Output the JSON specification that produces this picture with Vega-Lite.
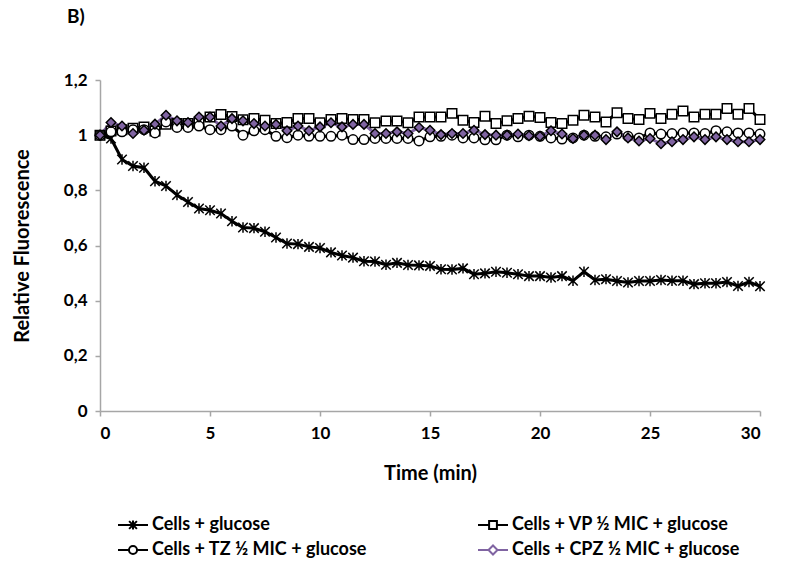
{
  "$schema": "https://vega.github.io/schema/vega-lite/v6.json",
  "width": 660,
  "height": 331,
  "autosize": {"type": "none"},
  "padding": {"left": 100, "top": 80, "right": 38, "bottom": 157},
  "background": "white",
  "config": {"view": {"stroke": null}, "font": "Lato"},
  "title": {"text": "B)", "anchor": "start", "frame": "group", "dx": -33, "offset": 44, "fontSize": 19, "font": "Lato", "fontWeight": "bold", "color": "#000"},
  "datasets": {
    "rows": [
      {"t":0,"s":"Cells + glucose","v":1.000},{"t":0.5,"s":"Cells + glucose","v":0.988},{"t":1,"s":"Cells + glucose","v":0.912},{"t":1.5,"s":"Cells + glucose","v":0.888},{"t":2,"s":"Cells + glucose","v":0.882},{"t":2.5,"s":"Cells + glucose","v":0.833},{"t":3,"s":"Cells + glucose","v":0.816},{"t":3.5,"s":"Cells + glucose","v":0.783},{"t":4,"s":"Cells + glucose","v":0.758},{"t":4.5,"s":"Cells + glucose","v":0.734},{"t":5,"s":"Cells + glucose","v":0.728},{"t":5.5,"s":"Cells + glucose","v":0.716},{"t":6,"s":"Cells + glucose","v":0.688},{"t":6.5,"s":"Cells + glucose","v":0.665},{"t":7,"s":"Cells + glucose","v":0.663},{"t":7.5,"s":"Cells + glucose","v":0.650},{"t":8,"s":"Cells + glucose","v":0.629},{"t":8.5,"s":"Cells + glucose","v":0.607},{"t":9,"s":"Cells + glucose","v":0.605},{"t":9.5,"s":"Cells + glucose","v":0.595},{"t":10,"s":"Cells + glucose","v":0.591},{"t":10.5,"s":"Cells + glucose","v":0.575},{"t":11,"s":"Cells + glucose","v":0.564},{"t":11.5,"s":"Cells + glucose","v":0.556},{"t":12,"s":"Cells + glucose","v":0.543},{"t":12.5,"s":"Cells + glucose","v":0.542},{"t":13,"s":"Cells + glucose","v":0.530},{"t":13.5,"s":"Cells + glucose","v":0.537},{"t":14,"s":"Cells + glucose","v":0.529},{"t":14.5,"s":"Cells + glucose","v":0.528},{"t":15,"s":"Cells + glucose","v":0.526},{"t":15.5,"s":"Cells + glucose","v":0.514},{"t":16,"s":"Cells + glucose","v":0.513},{"t":16.5,"s":"Cells + glucose","v":0.517},{"t":17,"s":"Cells + glucose","v":0.496},{"t":17.5,"s":"Cells + glucose","v":0.499},{"t":18,"s":"Cells + glucose","v":0.505},{"t":18.5,"s":"Cells + glucose","v":0.501},{"t":19,"s":"Cells + glucose","v":0.496},{"t":19.5,"s":"Cells + glucose","v":0.489},{"t":20,"s":"Cells + glucose","v":0.489},{"t":20.5,"s":"Cells + glucose","v":0.484},{"t":21,"s":"Cells + glucose","v":0.489},{"t":21.5,"s":"Cells + glucose","v":0.472},{"t":22,"s":"Cells + glucose","v":0.505},{"t":22.5,"s":"Cells + glucose","v":0.475},{"t":23,"s":"Cells + glucose","v":0.478},{"t":23.5,"s":"Cells + glucose","v":0.471},{"t":24,"s":"Cells + glucose","v":0.466},{"t":24.5,"s":"Cells + glucose","v":0.471},{"t":25,"s":"Cells + glucose","v":0.471},{"t":25.5,"s":"Cells + glucose","v":0.475},{"t":26,"s":"Cells + glucose","v":0.472},{"t":26.5,"s":"Cells + glucose","v":0.472},{"t":27,"s":"Cells + glucose","v":0.460},{"t":27.5,"s":"Cells + glucose","v":0.463},{"t":28,"s":"Cells + glucose","v":0.463},{"t":28.5,"s":"Cells + glucose","v":0.468},{"t":29,"s":"Cells + glucose","v":0.453},{"t":29.5,"s":"Cells + glucose","v":0.468},{"t":30,"s":"Cells + glucose","v":0.452},

      {"t":0,"s":"Cells + VP ½ MIC + glucose","v":1.000},{"t":0.5,"s":"Cells + VP ½ MIC + glucose","v":1.015},{"t":1,"s":"Cells + VP ½ MIC + glucose","v":1.020},{"t":1.5,"s":"Cells + VP ½ MIC + glucose","v":1.025},{"t":2,"s":"Cells + VP ½ MIC + glucose","v":1.030},{"t":2.5,"s":"Cells + VP ½ MIC + glucose","v":1.015},{"t":3,"s":"Cells + VP ½ MIC + glucose","v":1.040},{"t":3.5,"s":"Cells + VP ½ MIC + glucose","v":1.042},{"t":4,"s":"Cells + VP ½ MIC + glucose","v":1.042},{"t":4.5,"s":"Cells + VP ½ MIC + glucose","v":1.046},{"t":5,"s":"Cells + VP ½ MIC + glucose","v":1.066},{"t":5.5,"s":"Cells + VP ½ MIC + glucose","v":1.075},{"t":6,"s":"Cells + VP ½ MIC + glucose","v":1.068},{"t":6.5,"s":"Cells + VP ½ MIC + glucose","v":1.056},{"t":7,"s":"Cells + VP ½ MIC + glucose","v":1.060},{"t":7.5,"s":"Cells + VP ½ MIC + glucose","v":1.054},{"t":8,"s":"Cells + VP ½ MIC + glucose","v":1.042},{"t":8.5,"s":"Cells + VP ½ MIC + glucose","v":1.046},{"t":9,"s":"Cells + VP ½ MIC + glucose","v":1.060},{"t":9.5,"s":"Cells + VP ½ MIC + glucose","v":1.060},{"t":10,"s":"Cells + VP ½ MIC + glucose","v":1.045},{"t":10.5,"s":"Cells + VP ½ MIC + glucose","v":1.057},{"t":11,"s":"Cells + VP ½ MIC + glucose","v":1.060},{"t":11.5,"s":"Cells + VP ½ MIC + glucose","v":1.057},{"t":12,"s":"Cells + VP ½ MIC + glucose","v":1.057},{"t":12.5,"s":"Cells + VP ½ MIC + glucose","v":1.045},{"t":13,"s":"Cells + VP ½ MIC + glucose","v":1.051},{"t":13.5,"s":"Cells + VP ½ MIC + glucose","v":1.051},{"t":14,"s":"Cells + VP ½ MIC + glucose","v":1.045},{"t":14.5,"s":"Cells + VP ½ MIC + glucose","v":1.066},{"t":15,"s":"Cells + VP ½ MIC + glucose","v":1.066},{"t":15.5,"s":"Cells + VP ½ MIC + glucose","v":1.066},{"t":16,"s":"Cells + VP ½ MIC + glucose","v":1.079},{"t":16.5,"s":"Cells + VP ½ MIC + glucose","v":1.054},{"t":17,"s":"Cells + VP ½ MIC + glucose","v":1.046},{"t":17.5,"s":"Cells + VP ½ MIC + glucose","v":1.069},{"t":18,"s":"Cells + VP ½ MIC + glucose","v":1.042},{"t":18.5,"s":"Cells + VP ½ MIC + glucose","v":1.052},{"t":19,"s":"Cells + VP ½ MIC + glucose","v":1.060},{"t":19.5,"s":"Cells + VP ½ MIC + glucose","v":1.069},{"t":20,"s":"Cells + VP ½ MIC + glucose","v":1.064},{"t":20.5,"s":"Cells + VP ½ MIC + glucose","v":1.046},{"t":21,"s":"Cells + VP ½ MIC + glucose","v":1.042},{"t":21.5,"s":"Cells + VP ½ MIC + glucose","v":1.054},{"t":22,"s":"Cells + VP ½ MIC + glucose","v":1.072},{"t":22.5,"s":"Cells + VP ½ MIC + glucose","v":1.066},{"t":23,"s":"Cells + VP ½ MIC + glucose","v":1.048},{"t":23.5,"s":"Cells + VP ½ MIC + glucose","v":1.081},{"t":24,"s":"Cells + VP ½ MIC + glucose","v":1.060},{"t":24.5,"s":"Cells + VP ½ MIC + glucose","v":1.057},{"t":25,"s":"Cells + VP ½ MIC + glucose","v":1.079},{"t":25.5,"s":"Cells + VP ½ MIC + glucose","v":1.060},{"t":26,"s":"Cells + VP ½ MIC + glucose","v":1.076},{"t":26.5,"s":"Cells + VP ½ MIC + glucose","v":1.088},{"t":27,"s":"Cells + VP ½ MIC + glucose","v":1.066},{"t":27.5,"s":"Cells + VP ½ MIC + glucose","v":1.076},{"t":28,"s":"Cells + VP ½ MIC + glucose","v":1.076},{"t":28.5,"s":"Cells + VP ½ MIC + glucose","v":1.097},{"t":29,"s":"Cells + VP ½ MIC + glucose","v":1.076},{"t":29.5,"s":"Cells + VP ½ MIC + glucose","v":1.097},{"t":30,"s":"Cells + VP ½ MIC + glucose","v":1.057},

      {"t":0,"s":"Cells + TZ ½ MIC + glucose","v":1.000},{"t":0.5,"s":"Cells + TZ ½ MIC + glucose","v":1.012},{"t":1,"s":"Cells + TZ ½ MIC + glucose","v":1.012},{"t":1.5,"s":"Cells + TZ ½ MIC + glucose","v":1.020},{"t":2,"s":"Cells + TZ ½ MIC + glucose","v":1.020},{"t":2.5,"s":"Cells + TZ ½ MIC + glucose","v":1.008},{"t":3,"s":"Cells + TZ ½ MIC + glucose","v":1.048},{"t":3.5,"s":"Cells + TZ ½ MIC + glucose","v":1.028},{"t":4,"s":"Cells + TZ ½ MIC + glucose","v":1.028},{"t":4.5,"s":"Cells + TZ ½ MIC + glucose","v":1.033},{"t":5,"s":"Cells + TZ ½ MIC + glucose","v":1.020},{"t":5.5,"s":"Cells + TZ ½ MIC + glucose","v":1.020},{"t":6,"s":"Cells + TZ ½ MIC + glucose","v":1.033},{"t":6.5,"s":"Cells + TZ ½ MIC + glucose","v":1.000},{"t":7,"s":"Cells + TZ ½ MIC + glucose","v":1.016},{"t":7.5,"s":"Cells + TZ ½ MIC + glucose","v":1.020},{"t":8,"s":"Cells + TZ ½ MIC + glucose","v":0.996},{"t":8.5,"s":"Cells + TZ ½ MIC + glucose","v":0.991},{"t":9,"s":"Cells + TZ ½ MIC + glucose","v":1.000},{"t":9.5,"s":"Cells + TZ ½ MIC + glucose","v":0.996},{"t":10,"s":"Cells + TZ ½ MIC + glucose","v":0.996},{"t":10.5,"s":"Cells + TZ ½ MIC + glucose","v":0.996},{"t":11,"s":"Cells + TZ ½ MIC + glucose","v":1.000},{"t":11.5,"s":"Cells + TZ ½ MIC + glucose","v":0.984},{"t":12,"s":"Cells + TZ ½ MIC + glucose","v":0.984},{"t":12.5,"s":"Cells + TZ ½ MIC + glucose","v":0.988},{"t":13,"s":"Cells + TZ ½ MIC + glucose","v":0.988},{"t":13.5,"s":"Cells + TZ ½ MIC + glucose","v":0.988},{"t":14,"s":"Cells + TZ ½ MIC + glucose","v":0.988},{"t":14.5,"s":"Cells + TZ ½ MIC + glucose","v":0.979},{"t":15,"s":"Cells + TZ ½ MIC + glucose","v":0.994},{"t":15.5,"s":"Cells + TZ ½ MIC + glucose","v":0.996},{"t":16,"s":"Cells + TZ ½ MIC + glucose","v":1.000},{"t":16.5,"s":"Cells + TZ ½ MIC + glucose","v":0.990},{"t":17,"s":"Cells + TZ ½ MIC + glucose","v":0.990},{"t":17.5,"s":"Cells + TZ ½ MIC + glucose","v":0.983},{"t":18,"s":"Cells + TZ ½ MIC + glucose","v":0.983},{"t":18.5,"s":"Cells + TZ ½ MIC + glucose","v":1.000},{"t":19,"s":"Cells + TZ ½ MIC + glucose","v":0.994},{"t":19.5,"s":"Cells + TZ ½ MIC + glucose","v":1.000},{"t":20,"s":"Cells + TZ ½ MIC + glucose","v":0.996},{"t":20.5,"s":"Cells + TZ ½ MIC + glucose","v":0.990},{"t":21,"s":"Cells + TZ ½ MIC + glucose","v":0.986},{"t":21.5,"s":"Cells + TZ ½ MIC + glucose","v":0.990},{"t":22,"s":"Cells + TZ ½ MIC + glucose","v":1.000},{"t":22.5,"s":"Cells + TZ ½ MIC + glucose","v":0.996},{"t":23,"s":"Cells + TZ ½ MIC + glucose","v":0.994},{"t":23.5,"s":"Cells + TZ ½ MIC + glucose","v":1.004},{"t":24,"s":"Cells + TZ ½ MIC + glucose","v":0.996},{"t":24.5,"s":"Cells + TZ ½ MIC + glucose","v":0.990},{"t":25,"s":"Cells + TZ ½ MIC + glucose","v":1.008},{"t":25.5,"s":"Cells + TZ ½ MIC + glucose","v":1.004},{"t":26,"s":"Cells + TZ ½ MIC + glucose","v":1.006},{"t":26.5,"s":"Cells + TZ ½ MIC + glucose","v":1.008},{"t":27,"s":"Cells + TZ ½ MIC + glucose","v":1.008},{"t":27.5,"s":"Cells + TZ ½ MIC + glucose","v":1.006},{"t":28,"s":"Cells + TZ ½ MIC + glucose","v":1.016},{"t":28.5,"s":"Cells + TZ ½ MIC + glucose","v":1.012},{"t":29,"s":"Cells + TZ ½ MIC + glucose","v":1.008},{"t":29.5,"s":"Cells + TZ ½ MIC + glucose","v":1.008},{"t":30,"s":"Cells + TZ ½ MIC + glucose","v":1.004},

      {"t":0,"s":"Cells + CPZ ½ MIC + glucose","v":1.000},{"t":0.5,"s":"Cells + CPZ ½ MIC + glucose","v":1.046},{"t":1,"s":"Cells + CPZ ½ MIC + glucose","v":1.033},{"t":1.5,"s":"Cells + CPZ ½ MIC + glucose","v":1.006},{"t":2,"s":"Cells + CPZ ½ MIC + glucose","v":1.018},{"t":2.5,"s":"Cells + CPZ ½ MIC + glucose","v":1.040},{"t":3,"s":"Cells + CPZ ½ MIC + glucose","v":1.072},{"t":3.5,"s":"Cells + CPZ ½ MIC + glucose","v":1.052},{"t":4,"s":"Cells + CPZ ½ MIC + glucose","v":1.046},{"t":4.5,"s":"Cells + CPZ ½ MIC + glucose","v":1.066},{"t":5,"s":"Cells + CPZ ½ MIC + glucose","v":1.066},{"t":5.5,"s":"Cells + CPZ ½ MIC + glucose","v":1.033},{"t":6,"s":"Cells + CPZ ½ MIC + glucose","v":1.060},{"t":6.5,"s":"Cells + CPZ ½ MIC + glucose","v":1.052},{"t":7,"s":"Cells + CPZ ½ MIC + glucose","v":1.042},{"t":7.5,"s":"Cells + CPZ ½ MIC + glucose","v":1.033},{"t":8,"s":"Cells + CPZ ½ MIC + glucose","v":1.039},{"t":8.5,"s":"Cells + CPZ ½ MIC + glucose","v":1.016},{"t":9,"s":"Cells + CPZ ½ MIC + glucose","v":1.033},{"t":9.5,"s":"Cells + CPZ ½ MIC + glucose","v":1.016},{"t":10,"s":"Cells + CPZ ½ MIC + glucose","v":1.030},{"t":10.5,"s":"Cells + CPZ ½ MIC + glucose","v":1.045},{"t":11,"s":"Cells + CPZ ½ MIC + glucose","v":1.030},{"t":11.5,"s":"Cells + CPZ ½ MIC + glucose","v":1.039},{"t":12,"s":"Cells + CPZ ½ MIC + glucose","v":1.039},{"t":12.5,"s":"Cells + CPZ ½ MIC + glucose","v":1.006},{"t":13,"s":"Cells + CPZ ½ MIC + glucose","v":1.006},{"t":13.5,"s":"Cells + CPZ ½ MIC + glucose","v":1.012},{"t":14,"s":"Cells + CPZ ½ MIC + glucose","v":1.006},{"t":14.5,"s":"Cells + CPZ ½ MIC + glucose","v":1.028},{"t":15,"s":"Cells + CPZ ½ MIC + glucose","v":1.018},{"t":15.5,"s":"Cells + CPZ ½ MIC + glucose","v":1.002},{"t":16,"s":"Cells + CPZ ½ MIC + glucose","v":1.006},{"t":16.5,"s":"Cells + CPZ ½ MIC + glucose","v":1.006},{"t":17,"s":"Cells + CPZ ½ MIC + glucose","v":1.018},{"t":17.5,"s":"Cells + CPZ ½ MIC + glucose","v":1.002},{"t":18,"s":"Cells + CPZ ½ MIC + glucose","v":1.000},{"t":18.5,"s":"Cells + CPZ ½ MIC + glucose","v":1.000},{"t":19,"s":"Cells + CPZ ½ MIC + glucose","v":1.004},{"t":19.5,"s":"Cells + CPZ ½ MIC + glucose","v":0.998},{"t":20,"s":"Cells + CPZ ½ MIC + glucose","v":0.996},{"t":20.5,"s":"Cells + CPZ ½ MIC + glucose","v":1.016},{"t":21,"s":"Cells + CPZ ½ MIC + glucose","v":1.004},{"t":21.5,"s":"Cells + CPZ ½ MIC + glucose","v":0.988},{"t":22,"s":"Cells + CPZ ½ MIC + glucose","v":1.000},{"t":22.5,"s":"Cells + CPZ ½ MIC + glucose","v":1.000},{"t":23,"s":"Cells + CPZ ½ MIC + glucose","v":0.984},{"t":23.5,"s":"Cells + CPZ ½ MIC + glucose","v":1.012},{"t":24,"s":"Cells + CPZ ½ MIC + glucose","v":0.990},{"t":24.5,"s":"Cells + CPZ ½ MIC + glucose","v":0.979},{"t":25,"s":"Cells + CPZ ½ MIC + glucose","v":0.988},{"t":25.5,"s":"Cells + CPZ ½ MIC + glucose","v":0.969},{"t":26,"s":"Cells + CPZ ½ MIC + glucose","v":0.976},{"t":26.5,"s":"Cells + CPZ ½ MIC + glucose","v":0.984},{"t":27,"s":"Cells + CPZ ½ MIC + glucose","v":0.994},{"t":27.5,"s":"Cells + CPZ ½ MIC + glucose","v":0.984},{"t":28,"s":"Cells + CPZ ½ MIC + glucose","v":0.994},{"t":28.5,"s":"Cells + CPZ ½ MIC + glucose","v":0.984},{"t":29,"s":"Cells + CPZ ½ MIC + glucose","v":0.976},{"t":29.5,"s":"Cells + CPZ ½ MIC + glucose","v":0.976},{"t":30,"s":"Cells + CPZ ½ MIC + glucose","v":0.984}
    ]
  },
  "data": {"name": "rows"},
  "encoding": {
    "x": {
      "field": "t", "type": "quantitative",
      "scale": {"domain": [0, 30], "nice": false, "zero": false},
      "axis": {
        "title": "Time (min)", "values": [0, 5, 10, 15, 20, 25, 30], "grid": false,
        "domainColor": "#a6a6a6", "domainWidth": 1.5, "tickColor": "#a6a6a6", "tickWidth": 1.5, "tickSize": 5,
        "labelFont": "Lato", "labelFontSize": 17, "labelFontWeight": "bold", "labelColor": "#000", "labelPadding": 9,
        "titleFont": "Lato", "titleFontSize": 20, "titleFontWeight": "bold", "titleColor": "#000", "titlePadding": 22
      }
    },
    "y": {
      "field": "v", "type": "quantitative",
      "scale": {"domain": [0, 1.2], "nice": false},
      "axis": {
        "title": "Relative Fluorescence", "values": [0, 0.2, 0.4, 0.6, 0.8, 1, 1.2], "grid": false,
        "labelExpr": "replace(format(datum.value, '.1~f'), '.', ',')",
        "domainColor": "#a6a6a6", "domainWidth": 1.5, "tickColor": "#a6a6a6", "tickWidth": 1.5, "tickSize": 5,
        "labelFont": "Lato", "labelFontSize": 17, "labelFontWeight": "bold", "labelColor": "#000", "labelPadding": 8,
        "titleFont": "Lato", "titleFontSize": 20, "titleFontWeight": "bold", "titleColor": "#000", "titlePadding": 31
      }
    }
  },
  "layer": [
    {
      "mark": {"type": "line", "strokeWidth": 3},
      "encoding": {
        "stroke": {
          "field": "s", "type": "nominal",
          "scale": {"domain": ["Cells + glucose", "Cells + VP ½ MIC + glucose", "Cells + TZ ½ MIC + glucose", "Cells + CPZ ½ MIC + glucose"], "range": ["#000000", "#000000", "#000000", "#8064a2"]},
          "legend": null
        }
      }
    },
    {
      "mark": {"type": "point", "filled": true, "stroke": "#000", "strokeWidth": 1.5, "opacity": 1, "size": 90},
      "encoding": {
        "fill": {
          "field": "s", "type": "nominal",
          "scale": {"domain": ["Cells + glucose", "Cells + VP ½ MIC + glucose", "Cells + TZ ½ MIC + glucose", "Cells + CPZ ½ MIC + glucose"], "range": ["#000000", "#ffffff", "#ffffff", "#8064a2"]},
          "legend": null
        },
        "shape": {
          "field": "s", "type": "nominal",
          "scale": {"domain": ["Cells + glucose", "Cells + VP ½ MIC + glucose", "Cells + TZ ½ MIC + glucose", "Cells + CPZ ½ MIC + glucose"], "range": ["M-1,-1L1,1M-1,1L1,-1M0,-1.1L0,1.1", "square", "circle", "diamond"]},
          "legend": null
        }
      }
    },
    {
      "transform": [{"filter": {"field": "t", "lt": -1}}],
      "mark": {"type": "point", "filled": true, "fill": "#ffffff", "strokeWidth": 2, "opacity": 1, "size": 900},
      "encoding": {
        "stroke": {
          "field": "s", "type": "nominal", "title": "series",
          "scale": {"domain": ["Cells + glucose", "Cells + VP ½ MIC + glucose", "Cells + TZ ½ MIC + glucose", "Cells + CPZ ½ MIC + glucose"], "range": ["#000000", "#000000", "#000000", "#8064a2"]},
          "legend": {
            "title": null, "orient": "none", "legendX": 17, "legendY": 429, "direction": "horizontal", "columns": 2,
            "columnPadding": 106, "rowPadding": 0, "symbolSize": 900, "symbolStrokeWidth": 2,
            "labelFont": "Lato", "labelFontSize": 18, "labelFontWeight": "bold", "labelColor": "#000", "labelOffset": 3, "labelLimit": 400
          }
        },
        "shape": {
          "field": "s", "type": "nominal", "title": "series",
          "scale": {"domain": ["Cells + glucose", "Cells + VP ½ MIC + glucose", "Cells + TZ ½ MIC + glucose", "Cells + CPZ ½ MIC + glucose"], "range": [
            "M-1,0H1M-0.26,-0.26L0.26,0.26M-0.26,0.26L0.26,-0.26M0,-0.3V0.3",
            "M-1,0H-0.26M0.26,0H1M-0.26,-0.26H0.26V0.26H-0.26Z",
            "M-1,0H-0.27M0.27,0H1M-0.27,0A0.27,0.27 0 1,0 0.27,0A0.27,0.27 0 1,0 -0.27,0Z",
            "M-1,0H-0.3M0.3,0H1M-0.3,0L0,-0.3L0.3,0L0,0.3Z"]},
          "legend": {
            "title": null, "orient": "none", "legendX": 17, "legendY": 429, "direction": "horizontal", "columns": 2,
            "columnPadding": 106, "rowPadding": 0, "symbolSize": 900, "symbolStrokeWidth": 2,
            "labelFont": "Lato", "labelFontSize": 18, "labelFontWeight": "bold", "labelColor": "#000", "labelOffset": 3, "labelLimit": 400
          }
        }
      }
    }
  ],
  "resolve": {"scale": {"shape": "independent", "stroke": "independent"}, "legend": {"shape": "independent", "stroke": "independent"}}
}
